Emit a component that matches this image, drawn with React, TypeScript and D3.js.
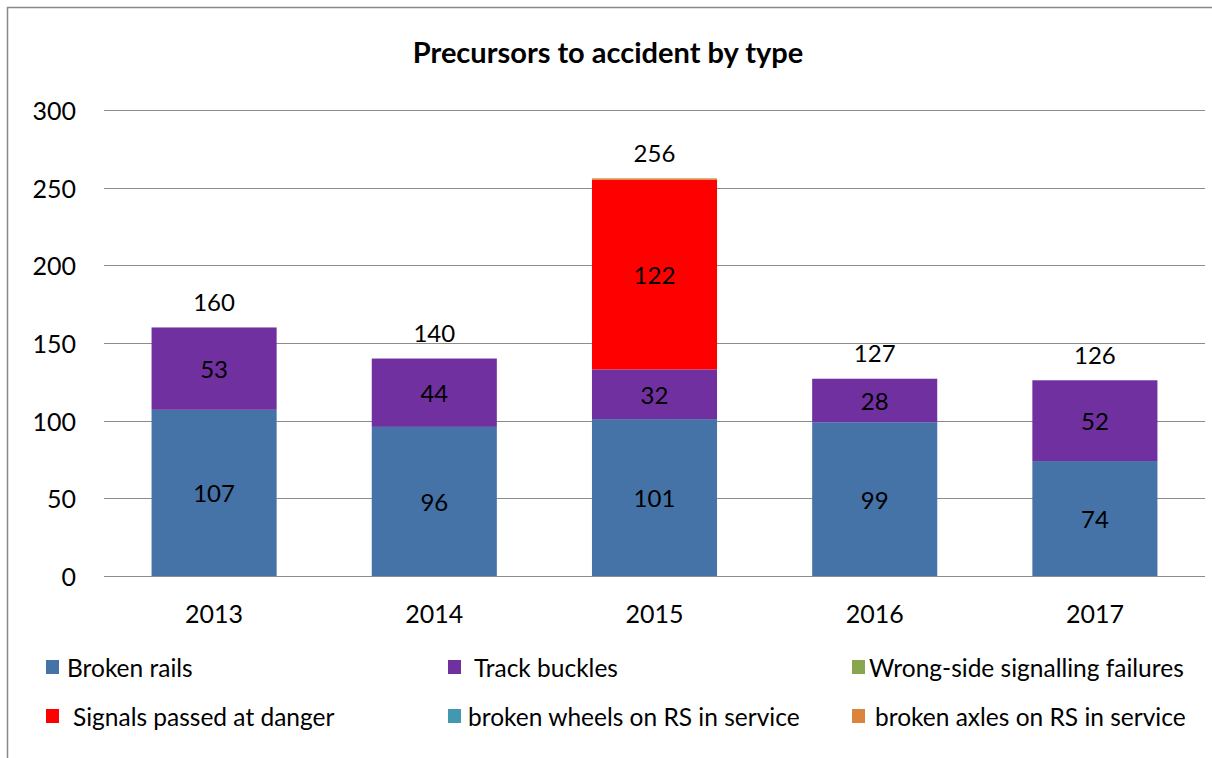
import React from "react";
import * as d3 from "d3";

const years = ["2013", "2014", "2015", "2016", "2017"];
const seriesNames = [
  "Broken rails",
  "Track buckles",
  "Wrong-side signalling failures",
  "Signals passed at danger",
  "broken wheels on RS in service",
  "broken axles on RS in service",
];
const brokenRails = [107, 96, 101, 99, 74];
const trackBuckles = [53, 44, 32, 28, 52];
const wrongSide = [0, 0, 0, 0, 0];
const spad = [0, 0, 122, 0, 0];
const brokenWheels = [0, 0, 0, 0, 0];
const brokenAxles = [0, 0, 1, 0, 0];
const colors = ["#4572A7", "#7030A0", "#89A54E", "#FF0000", "#4198AF", "#DB843D"];
const yTicks = [0, 50, 100, 150, 200, 250, 300];

const W = 1212;
const H = 758;
const FONT = "Lato, 'Open Sans', sans-serif";

export default function App() {
  const seriesValues = [brokenRails, trackBuckles, wrongSide, spad, brokenWheels, brokenAxles];
  const rows = years.map((y, i) => {
    const r: any = { year: y };
    seriesNames.forEach((n, k) => (r[n] = seriesValues[k][i]));
    return r;
  });
  const stack = d3.stack<any>().keys(seriesNames)(rows);
  const totals = years.map((_, i) => d3.sum(seriesValues, (s) => s[i]));

  const x = d3.scaleBand().domain(years).range([104, 1205]).paddingInner(0.432).paddingOuter(0.216);
  const y = d3.scaleLinear().domain([0, 300]).range([576, 110]);

  const legendCols = [
    { sx: 46, tx: 67 },
    { sx: 448, tx: 474 },
    { sx: 852, tx: 869 },
    { sx: 46, tx: 73 },
    { sx: 448, tx: 468 },
    { sx: 852, tx: 875 },
  ];
  const legendRows = [667, 716];

  return (
    <svg width={W} height={H} style={{ position: "absolute", left: 0, top: 0 }} fontFamily={FONT}>
      <rect x={0} y={0} width={W} height={H} fill="#fff" />
      <path d={`M7.5,${H} V7.5 H${W}`} fill="none" stroke="#898989" strokeWidth={1.5} />
      <text x={608} y={51} textAnchor="middle" dominantBaseline="central" fontWeight="bold" fontSize={29} fill="#000">
        Precursors to accident by type
      </text>
      {yTicks.map((t) => (
        <g key={t}>
          <line x1={104} x2={1205} y1={Math.round(y(t)) + 0.5} y2={Math.round(y(t)) + 0.5} stroke="#8c8c8c" strokeWidth={1} />
          <text x={76} y={y(t)} textAnchor="end" dominantBaseline="central" fontSize={25} fill="#000">
            {t}
          </text>
        </g>
      ))}
      {stack.map((s, k) => (
        <g key={k} fill={colors[k]}>
          {s.map((d, i) =>
            d[1] - d[0] > 0 ? (
              <rect key={i} x={x(years[i])} y={y(d[1])} width={x.bandwidth()} height={y(d[0]) - y(d[1])} />
            ) : null
          )}
        </g>
      ))}
      {stack.map((s, k) =>
        s.map((d, i) =>
          d[1] - d[0] >= 5 ? (
            <text
              key={`${k}-${i}`}
              x={(x(years[i]) as number) + x.bandwidth() / 2}
              y={y((d[0] + d[1]) / 2)}
              textAnchor="middle"
              dominantBaseline="central"
              fontSize={24}
              fill="#000"
            >
              {d[1] - d[0]}
            </text>
          ) : null
        )
      )}
      {totals.map((t, i) => (
        <text
          key={i}
          x={(x(years[i]) as number) + x.bandwidth() / 2}
          y={y(t) - 26}
          textAnchor="middle"
          dominantBaseline="central"
          fontSize={24}
          fill="#000"
        >
          {t}
        </text>
      ))}
      {years.map((yr) => (
        <text
          key={yr}
          x={(x(yr) as number) + x.bandwidth() / 2}
          y={613}
          textAnchor="middle"
          dominantBaseline="central"
          fontSize={25}
          fill="#000"
        >
          {yr}
        </text>
      ))}
      {seriesNames.map((n, k) => {
        const c = legendCols[k];
        const cy = legendRows[Math.floor(k / 3)];
        return (
          <g key={n}>
            <rect x={c.sx} y={cy - 7} width={13} height={14} fill={colors[k]} />
            <text x={c.tx} y={cy} dominantBaseline="central" fontSize={24.5} fill="#000">
              {n}
            </text>
          </g>
        );
      })}
    </svg>
  );
}
